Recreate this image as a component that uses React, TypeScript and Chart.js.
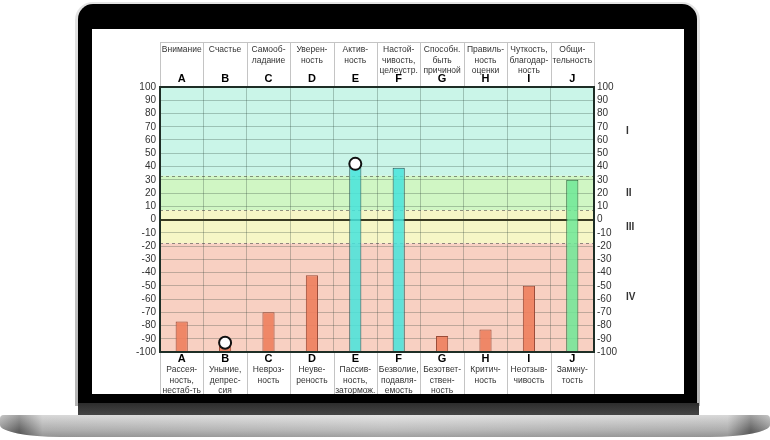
import React, { useEffect, useRef } from "react";
import { Chart, registerables } from "chart.js";

Chart.register(...registerables);

const categories = ["A", "B", "C", "D", "E", "F", "G", "H", "I", "J"];
const topLabels: string[][] = [
  ["Внимание"],
  ["Счастье"],
  ["Самооб-", "ладание"],
  ["Уверен-", "ность"],
  ["Актив-", "ность"],
  ["Настой-", "чивость,", "целеустр."],
  ["Способн.", "быть", "причиной"],
  ["Правиль-", "ность", "оценки"],
  ["Чуткость,", "благодар-", "ность"],
  ["Общи-", "тельность"],
];
const bottomLabels: string[][] = [
  ["Рассея-", "ность,", "нестаб-ть"],
  ["Уныние,", "депрес-", "сия"],
  ["Невроз-", "ность"],
  ["Неуве-", "реность"],
  ["Пассив-", "ность,", "затормож."],
  ["Безволие,", "подавля-", "емость"],
  ["Безответ-", "ствен-", "ность"],
  ["Критич-", "ность"],
  ["Неотзыв-", "чивость"],
  ["Замкну-", "тость"],
];
const scores = [-77, -95, -70, -42, 42, 39, -88, -83, -50, 30];
const markers: (number | null)[] = [null, -93, null, null, 42, null, null, null, null, null];
const zoneBounds = [100, 33, 7, -18, -100];
const zoneNames = ["I", "II", "III", "IV"];
const zoneFills = ["rgb(202,245,232)", "rgb(208,246,196)", "rgb(246,246,198)", "rgb(248,208,194)"];
const barFills = ["rgba(70,228,220,0.85)", "rgba(110,232,150,0.85)", "rgba(238,128,96,0.92)", "rgba(238,128,96,0.92)"];
const barBorders = ["#2d5c5c", "#2d6a3e", "#9a4a36", "#9a4a36"];

const FONT = "Arial, 'Liberation Sans', sans-serif";

function zoneIndex(v: number) {
  for (let i = 0; i < zoneNames.length; i++) {
    if (v >= zoneBounds[i + 1]) return i;
  }
  return zoneNames.length - 1;
}

const framePlugin = {
  id: "frame",
  beforeDraw(chart: any) {
    const { ctx, chartArea: a, scales } = chart;
    const y = scales.y;
    ctx.save();
    for (let i = 0; i < zoneFills.length; i++) {
      const y1 = y.getPixelForValue(zoneBounds[i]);
      const y2 = y.getPixelForValue(zoneBounds[i + 1]);
      ctx.fillStyle = zoneFills[i];
      ctx.fillRect(a.left, y1, a.right - a.left, y2 - y1);
    }
    ctx.restore();
  },
  beforeDatasetsDraw(chart: any) {
    const { ctx, chartArea: a, scales } = chart;
    const y = scales.y;
    ctx.save();
    ctx.strokeStyle = "rgba(60,60,60,0.55)";
    ctx.lineWidth = 1;
    ctx.setLineDash([3, 3]);
    for (let i = 1; i < zoneBounds.length - 1; i++) {
      const py = Math.round(y.getPixelForValue(zoneBounds[i])) + 0.5;
      ctx.beginPath();
      ctx.moveTo(a.left, py);
      ctx.lineTo(a.right, py);
      ctx.stroke();
    }
    ctx.setLineDash([]);
    ctx.strokeStyle = "#3a3a22";
    ctx.lineWidth = 2;
    const zy = Math.round(y.getPixelForValue(0));
    ctx.beginPath();
    ctx.moveTo(a.left, zy);
    ctx.lineTo(a.right, zy);
    ctx.stroke();
    ctx.restore();
  },
  afterDatasetsDraw(chart: any) {
    const { ctx, chartArea: a, scales, height } = chart;
    const y = scales.y;
    const n = categories.length;
    const w = (a.right - a.left) / n;
    ctx.save();
    ctx.strokeStyle = "#1e2e26";
    ctx.lineWidth = 2;
    ctx.strokeRect(a.left, a.top, a.right - a.left, a.bottom - a.top);

    const headTop = a.top - 45;
    ctx.strokeStyle = "#c4c4c4";
    ctx.lineWidth = 1;
    ctx.beginPath();
    ctx.moveTo(a.left, headTop + 0.5);
    ctx.lineTo(a.right, headTop + 0.5);
    for (let i = 0; i <= n; i++) {
      const px = Math.round(a.left + i * w) + 0.5;
      ctx.moveTo(px, headTop);
      ctx.lineTo(px, a.top - 1);
      ctx.moveTo(px, a.bottom + 1);
      ctx.lineTo(px, height);
    }
    ctx.stroke();

    ctx.textAlign = "center";
    ctx.textBaseline = "middle";
    for (let i = 0; i < n; i++) {
      const cx = a.left + (i + 0.5) * w;
      ctx.fillStyle = "#333";
      ctx.font = `8.5px ${FONT}`;
      topLabels[i].forEach((t, k) => ctx.fillText(t, cx, headTop + 8 + k * 10.5));
      bottomLabels[i].forEach((t, k) => ctx.fillText(t, cx, a.bottom + 18 + k * 10.5));
      ctx.fillStyle = "#000";
      ctx.font = `bold 11px ${FONT}`;
      ctx.fillText(categories[i], cx, a.top - 8);
      ctx.fillText(categories[i], cx, a.bottom + 7);
    }

    ctx.textAlign = "left";
    ctx.fillStyle = "#333";
    ctx.font = `bold 10px ${FONT}`;
    for (let i = 0; i < zoneNames.length; i++) {
      const mid = (zoneBounds[i] + zoneBounds[i + 1]) / 2;
      ctx.fillText(zoneNames[i], a.right + 32, y.getPixelForValue(mid));
    }
    ctx.restore();
  },
};

function ChartView() {
  const ref = useRef<HTMLCanvasElement | null>(null);
  useEffect(() => {
    if (!ref.current) return;
    const tickOpts = {
      stepSize: 10,
      autoSkip: false,
      color: "#333",
      font: { size: 10, family: FONT },
    };
    const chart = new Chart(ref.current, {
      type: "bar",
      data: {
        labels: categories,
        datasets: [
          {
            type: "line",
            data: markers,
            showLine: false,
            pointRadius: 6,
            pointBackgroundColor: "#fff",
            pointBorderColor: "#111",
            pointBorderWidth: 2,
            order: 0,
          } as any,
          {
            type: "bar",
            data: scores,
            base: -100,
            backgroundColor: scores.map((v) => barFills[zoneIndex(v)]),
            borderColor: scores.map((v) => barBorders[zoneIndex(v)]),
            borderWidth: 1,
            barPercentage: 0.28,
            categoryPercentage: 1,
            order: 1,
          } as any,
        ],
      },
      options: {
        animation: false,
        responsive: false,
        devicePixelRatio: 1,
        events: [],
        layout: { padding: { top: 58, bottom: 42, left: 0, right: 0 } },
        plugins: { legend: { display: false }, tooltip: { enabled: false } },
        scales: {
          x: {
            type: "category",
            offset: true,
            grid: { offset: true, color: "rgba(40,60,50,0.28)", drawTicks: false },
            border: { display: false },
            ticks: { display: false },
            afterFit: (s: any) => {
              s.height = 0;
            },
          },
          y: {
            position: "left",
            min: -100,
            max: 100,
            ticks: { ...tickOpts, padding: 4 },
            grid: { color: "rgba(40,60,50,0.28)", drawTicks: false },
            border: { display: false },
            afterFit: (s: any) => {
              s.width = 68;
            },
          },
          y2: {
            position: "right",
            min: -100,
            max: 100,
            ticks: { ...tickOpts, padding: 3 },
            grid: { display: false, drawTicks: false },
            border: { display: false },
            afterFit: (s: any) => {
              s.width = 90;
            },
          },
        },
      } as any,
      plugins: [framePlugin],
    });
    return () => chart.destroy();
  }, []);
  return <canvas ref={ref} width={592} height={365} style={{ display: "block" }} />;
}

export default function App() {
  return (
    <div style={{ position: "fixed", left: 0, top: 0, width: 770, height: 440, background: "#fff", overflow: "hidden" }}>
      <div
        style={{
          position: "absolute",
          left: 75,
          top: 2,
          width: 625,
          height: 404,
          background: "linear-gradient(#e4e4e4, #b4b4b4)",
          borderRadius: "18px 18px 0 0",
        }}
      />
      <div
        style={{
          position: "absolute",
          left: 78,
          top: 4,
          width: 619,
          height: 400,
          background: "#000",
          borderRadius: "15px 15px 0 0",
        }}
      />
      <div style={{ position: "absolute", left: 92, top: 29, width: 592, height: 365, background: "#fff" }}>
        <ChartView />
      </div>
      <div
        style={{
          position: "absolute",
          left: 78,
          top: 403,
          width: 621,
          height: 12,
          background: "linear-gradient(#2c2c2c, #454545)",
        }}
      />
      <div
        style={{
          position: "absolute",
          left: 0,
          top: 415,
          width: 770,
          height: 22,
          background:
            "linear-gradient(to right, #a8a8a8 0%, #6e6e6e 2.5%, #c4c4c4 5.5%, #d6d6d6 50%, #c4c4c4 94.5%, #6e6e6e 97.5%, #a8a8a8 100%)",
          borderRadius: "4px 4px 60px 60px / 4px 4px 12px 12px",
          overflow: "hidden",
        }}
      >
        <div
          style={{
            position: "absolute",
            inset: 0,
            background: "linear-gradient(to bottom, rgba(255,255,255,0.35), rgba(0,0,0,0.12) 70%, rgba(0,0,0,0.25))",
          }}
        />
      </div>
    </div>
  );
}
